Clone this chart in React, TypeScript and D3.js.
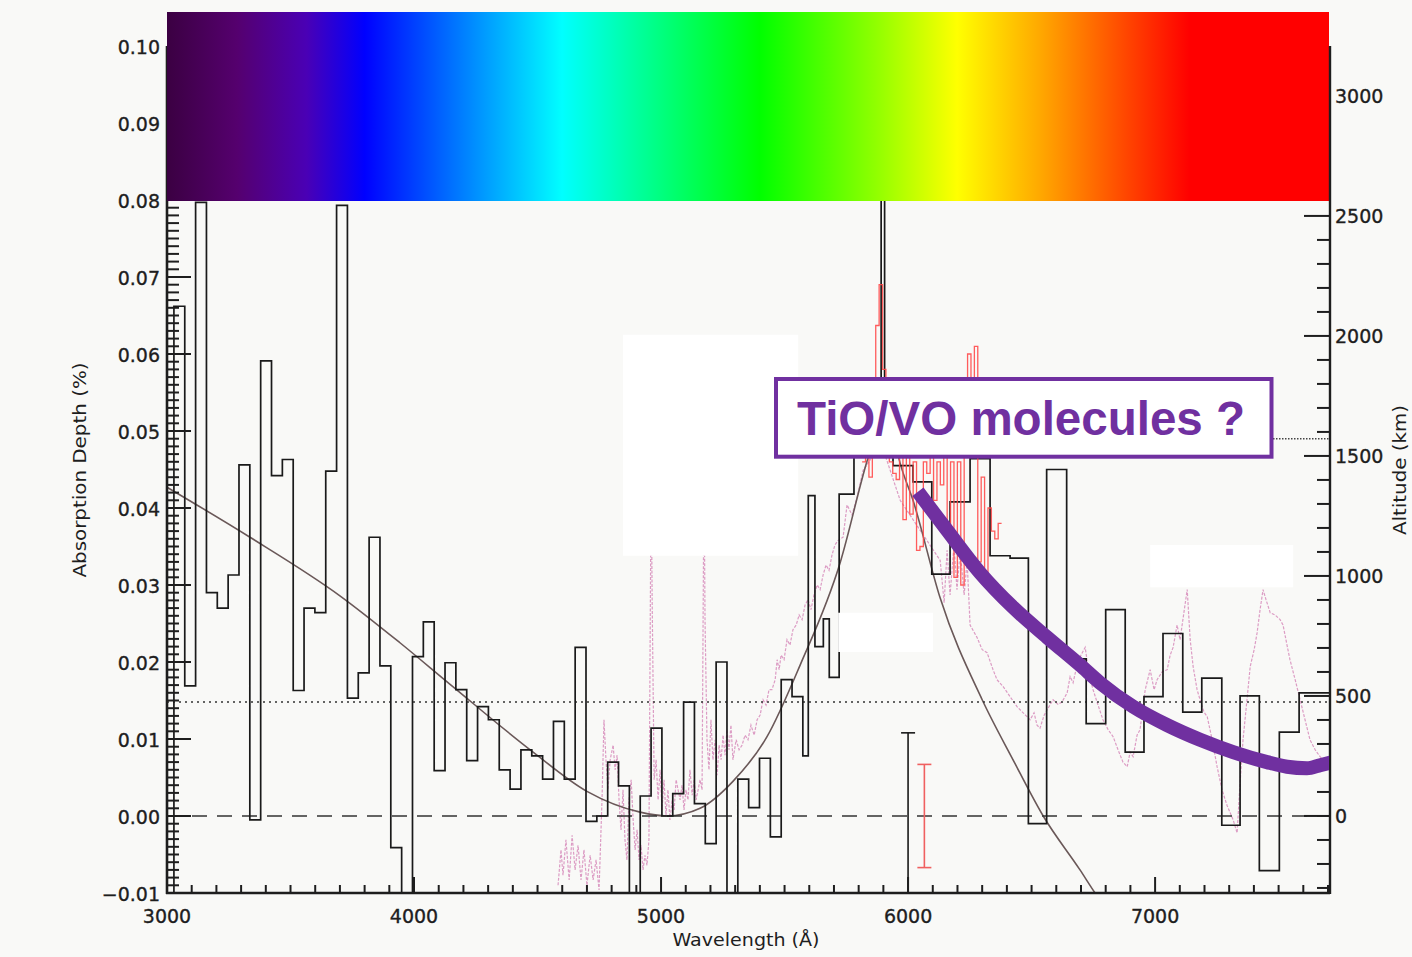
import * as d3 from 'd3'

// black binned absorption depth: first 58 bins are 43.9 A wide from 3028 A
const uniformStart = 3028
const uniformWidth = 43.9
const uniformValues = [
  0.0662, 0.0169, 0.0797, 0.029, 0.027, 0.0313, 0.0456, -0.0005, 0.0591, 0.0442,
  0.0463, 0.0163, 0.027, 0.0264, 0.0448, 0.0793, 0.0153, 0.0186, 0.0362, 0.0195,
  -0.0041, -0.013, 0.0207, 0.0252, 0.0059, 0.0199, 0.0164, 0.0072, 0.0142, 0.0125,
  0.006, 0.0035, 0.0086, 0.0078, 0.0048, 0.0123, 0.0048, 0.0219, -0.0007, 0.0,
  0.007, 0.0039, -0.013, 0.0026, 0.0114, 0.0, 0.0029, 0.0148, 0.0016, -0.0036,
  0.02, -0.013, 0.0048, 0.0011, 0.0075, -0.0027, 0.0177, 0.0155,
]
// then irregular bins
const wideEdges = [
  5574, 5596, 5623, 5657, 5681, 5721, 5781, 5846, 5891, 5905, 5939, 6020, 6096, 6170,
  6251, 6332, 6413, 6487, 6561, 6642, 6721, 6800, 6879, 6955, 7032, 7112, 7189, 7270,
  7344, 7422, 7503, 7583, 7704,
]
const wideValues = [
  0.0078, 0.0416, 0.022, 0.0256, 0.018, 0.0418, 0.05, 0.054, 0.09, 0.052, 0.0455,
  0.0434, 0.0314, 0.0408, 0.0464, 0.0338, 0.0335, -0.001, 0.045, 0.0204, 0.012,
  0.0268, 0.0083, 0.0155, 0.0237, 0.0135, 0.0179, -0.0012, 0.0156, -0.0071, 0.0109,
  0.016,
]

// red high resolution bins around the Na line
const redStart = 5814
const redWidth = 13.77
const redValues = [
  0.046, 0.049, 0.044, 0.048, 0.0637, 0.069, 0.058, 0.05, 0.046, 0.0445,
  0.0437, 0.047, 0.0385, 0.047, 0.0392, 0.046, 0.0345, 0.035, 0.046, 0.0445,
  0.047, 0.041, 0.046, 0.043, 0.047, 0.036, 0.046, 0.031, 0.046, 0.03,
  0.048, 0.06, 0.049, 0.061, 0.033, 0.044, 0.03, 0.04, 0.037, 0.036, 0.038,
]

// pink comparison spectrum [wavelength, depth]
const pinkSpectrum: [number, number][] = [
  [4583, -0.009], [4595, -0.0044], [4603, -0.0077], [4615, -0.0031], [4628, -0.0083],
  [4640, -0.0025], [4652, -0.007], [4664, -0.0038], [4676, -0.0083], [4688, -0.0044],
  [4700, -0.009], [4713, -0.0051], [4725, -0.0083], [4737, -0.0057], [4749, -0.0096],
  [4761, 0.0021], [4769, 0.0125], [4777, 0.0073], [4785, 0.0034], [4794, 0.0073],
  [4806, 0.0092], [4814, 0.006], [4822, 0.0079], [4830, 0.0021], [4838, -0.0018],
  [4846, 0.0034], [4854, -0.0031], [4862, -0.0057], [4870, 0.0021], [4879, 0.0047],
  [4887, -0.0005], [4895, -0.0044], [4903, -0.0018], [4911, -0.0057], [4919, -0.0038],
  [4927, -0.007], [4935, -0.0051], [4943, -0.0064], [4951, -0.0031], [4960, 0.045],
  [4964, 0.0281], [4972, 0.0047], [4980, 0.0073], [4988, 0.0021], [4996, 0.006],
  [5004, 0.0008], [5012, 0.0047], [5020, 0.0001], [5028, 0.0034], [5036, -0.0005],
  [5045, 0.0021], [5053, 0.0008], [5061, 0.0047], [5069, 0.0034], [5077, 0.0021],
  [5085, 0.004], [5093, 0.0008], [5101, 0.0034], [5109, 0.0021], [5117, 0.006],
  [5126, 0.0027], [5134, 0.0047], [5142, 0.0021], [5150, 0.0034], [5158, 0.0047],
  [5166, 0.0034], [5174, 0.045], [5178, 0.0255], [5186, 0.0099], [5194, 0.006],
  [5202, 0.0125], [5210, 0.0073], [5219, 0.0099], [5227, 0.0053], [5235, 0.0092],
  [5243, 0.0073], [5251, 0.0105], [5259, 0.0079], [5267, 0.0112], [5275, 0.0086],
  [5283, 0.0118], [5291, 0.0073], [5304, 0.0099], [5316, 0.0086], [5328, 0.0092],
  [5340, 0.0105], [5352, 0.0099], [5364, 0.0118], [5377, 0.0105], [5389, 0.0125],
  [5401, 0.0131], [5413, 0.0151], [5425, 0.0144], [5437, 0.0164], [5449, 0.0164],
  [5462, 0.0177], [5470, 0.0203], [5478, 0.019], [5486, 0.0209], [5498, 0.0203],
  [5510, 0.0229], [5522, 0.0222], [5534, 0.0242], [5547, 0.0248], [5559, 0.0261],
  [5571, 0.0255], [5583, 0.0274], [5595, 0.0281], [5607, 0.0268], [5619, 0.0287],
  [5632, 0.03], [5644, 0.0294], [5656, 0.0313], [5668, 0.0326], [5680, 0.0319],
  [5692, 0.0339], [5704, 0.0352], [5717, 0.0358], [5737, 0.0362], [5753, 0.0404],
  [5773, 0.0391], [5794, 0.0414], [5818, 0.0449], [5846, 0.0462], [5887, 0.0488],
  [5968, 0.041], [6049, 0.0371], [6130, 0.0332], [6146, 0.0277], [6158, 0.0345],
  [6170, 0.0287], [6186, 0.0352], [6198, 0.0294], [6211, 0.0345], [6227, 0.0287],
  [6239, 0.0332], [6251, 0.0248], [6279, 0.0232], [6300, 0.0216], [6320, 0.0212],
  [6344, 0.019], [6360, 0.0177], [6385, 0.0168], [6413, 0.0155], [6441, 0.0142],
  [6466, 0.0134], [6494, 0.0125], [6510, 0.0134], [6522, 0.0118], [6534, 0.0114],
  [6551, 0.0131], [6563, 0.0138], [6587, 0.0151], [6607, 0.0145], [6623, 0.0148],
  [6644, 0.016], [6656, 0.0181], [6668, 0.0173], [6684, 0.0196], [6700, 0.0209],
  [6717, 0.0219], [6733, 0.0183], [6749, 0.0164], [6769, 0.0144], [6789, 0.0125],
  [6810, 0.0112], [6830, 0.0103], [6850, 0.0086], [6870, 0.007], [6887, 0.0064],
  [6899, 0.0083], [6911, 0.0077], [6927, 0.0105], [6939, 0.0112], [6960, 0.0164],
  [6980, 0.019], [6996, 0.0164], [7008, 0.0177], [7028, 0.0187], [7049, 0.019],
  [7061, 0.0209], [7073, 0.0219], [7089, 0.0248], [7101, 0.0229], [7117, 0.0265],
  [7130, 0.0294], [7142, 0.0229], [7154, 0.0194], [7170, 0.0164], [7182, 0.0151],
  [7198, 0.0135], [7211, 0.0129], [7231, 0.0099], [7251, 0.0064], [7271, 0.0034],
  [7291, 0.0014], [7316, -0.0005], [7332, -0.0022], [7344, 0.0043], [7356, 0.0099],
  [7372, 0.0151], [7385, 0.0194], [7401, 0.0216], [7413, 0.0238], [7425, 0.0268],
  [7437, 0.0294], [7449, 0.0281], [7466, 0.0264], [7486, 0.0261], [7506, 0.0255],
  [7518, 0.0248], [7534, 0.0222], [7546, 0.0203], [7567, 0.0177], [7587, 0.0151],
  [7607, 0.0125], [7627, 0.0099], [7648, 0.0086], [7668, 0.0077], [7688, 0.007],
  [7704, 0.0064],
]

// smooth model curve
const modelCurve: [number, number][] = [
  [3000, 0.0427], [3336, 0.0362], [3700, 0.0286], [3943, 0.0225], [4146, 0.0171],
  [4482, 0.0083], [4700, 0.0032], [4915, 0.0005], [5024, 0.0], [5158, 0.001],
  [5291, 0.0045], [5429, 0.0103], [5563, 0.0196], [5725, 0.0329], [5834, 0.0461],
  [5887, 0.0514], [5893, 0.056], [5911, 0.054], [5968, 0.0458], [6020, 0.041],
  [6130, 0.0283], [6300, 0.0151], [6425, 0.0073], [6547, 0.0], [6696, -0.007],
  [6757, -0.01], [6818, -0.0128],
]

// hand drawn TiO/VO trend
const tioTrend: [number, number][] = [
  [6040, 0.0421], [6158, 0.0371], [6291, 0.0316], [6425, 0.0271], [6563, 0.0232],
  [6696, 0.0196], [6777, 0.0173], [6911, 0.0142], [7049, 0.0118], [7182, 0.0099],
  [7316, 0.0083], [7453, 0.007], [7534, 0.0064], [7615, 0.0062], [7668, 0.0066],
  [7717, 0.007],
]

const errorBars = [
  { wave: 6000, value: 0, err: 0.0108, color: '#1a1a1a' },
  { wave: 6066, value: 0, err: 0.0067, color: '#f06060' },
]

const dottedLevel = 0.0148
const altitudeMark = 0.049

// blanked patches in the original figure [w0, w1, v0, v1]
const blankPatches = [
  [4846, 5555, 0.0338, 0.0625],
  [5717, 6101, 0.0213, 0.0264],
  [6980, 7559, 0.0297, 0.0352],
]

const rainbowStops = [
  [0, '#3b0042'], [0.06, '#55006e'], [0.12, '#4a00b5'], [0.17, '#0000ff'],
  [0.34, '#00ffff'], [0.51, '#00ff00'], [0.61, '#90ff00'], [0.68, '#ffff00'],
  [0.75, '#ffaa00'], [0.83, '#ff4000'], [0.88, '#ff0000'], [1, '#ff0000'],
]

const leftLabels = d3.range(-1, 11).map((i) => i / 100)
const bottomLabels = [3000, 4000, 5000, 6000, 7000]
const rightLabels = [0, 500, 1000, 1500, 2000, 2500, 3000]

export default function App() {
  const x = d3.scaleLinear().domain([3000, 7704]).range([167, 1329])
  const y = d3.scaleLinear().domain([-0.01, 0.1]).range([893, 46])
  const yAlt = d3.scaleLinear().domain([-321, 3208]).range([893, 46])
  const smooth = d3
    .line<[number, number]>()
    .x((d) => x(d[0]))
    .y((d) => y(d[1]))
    .curve(d3.curveMonotoneX)
  const straight = d3
    .line<[number, number]>()
    .x((d) => x(d[0]))
    .y((d) => y(d[1]))

  const stepPoints = (edges: number[], vals: number[], startLow: boolean) => {
    const pts: [number, number][] = []
    if (startLow) pts.push([edges[0], -0.02])
    vals.forEach((v, i) => {
      pts.push([edges[i], v], [edges[i + 1], v])
    })
    return pts
  }

  const blackEdges = [
    ...d3.range(58).map((k) => uniformStart + uniformWidth * k),
    ...wideEdges,
  ]
  const blackValues = [...uniformValues, ...wideValues]
  const redEdges = d3.range(redValues.length + 1).map((k) => redStart + redWidth * k)

  const fmt = d3.format('.2f')
  const font = 'DejaVu Sans, sans-serif'
  const ink = '#1e1e1e'

  return (
    <svg
      width={1412}
      height={957}
      style={{ position: 'absolute', left: 0, top: 0 }}
      xmlns="http://www.w3.org/2000/svg"
    >
      <defs>
        <clipPath id="plot">
          <rect x={167} y={46} width={1162} height={847} />
        </clipPath>
        <linearGradient id="rainbow" x1="0" x2="1" y1="0" y2="0">
          {rainbowStops.map(([o, c]) => (
            <stop key={String(o)} offset={o as number} stopColor={c as string} />
          ))}
        </linearGradient>
      </defs>
      <rect width={1412} height={957} fill="#f9f9f7" />

      <g clipPath="url(#plot)">
        <path
          d={straight(pinkSpectrum) || ''}
          fill="none"
          stroke="#dc9cc4"
          strokeWidth={1.2}
          strokeDasharray="3,1.5"
        />
        <path d={smooth(modelCurve) || ''} fill="none" stroke="#6a5858" strokeWidth={1.6} />
        <line
          x1={x(3000)} x2={x(7704)} y1={y(dottedLevel)} y2={y(dottedLevel)}
          stroke="#333" strokeWidth={1.4} strokeDasharray="2,4"
        />
        <line
          x1={x(3000)} x2={x(7704)} y1={y(0)} y2={y(0)}
          stroke="#333" strokeWidth={1.4} strokeDasharray="15,10"
        />
        <path
          d={straight(stepPoints(blackEdges, blackValues, true)) || ''}
          fill="none"
          stroke="#1a1a1a"
          strokeWidth={1.7}
        />
        <path
          d={straight(stepPoints(redEdges, redValues, false)) || ''}
          fill="none"
          stroke="#ff4a4a"
          strokeWidth={1.3}
          opacity={0.9}
        />
        {errorBars.map((e) => (
          <g key={e.wave} stroke={e.color} strokeWidth={1.6}>
            <line x1={x(e.wave)} x2={x(e.wave)} y1={y(e.value + e.err)} y2={y(e.value - e.err)} />
            <line x1={x(e.wave) - 7} x2={x(e.wave) + 7} y1={y(e.value + e.err)} y2={y(e.value + e.err)} />
            <line x1={x(e.wave) - 7} x2={x(e.wave) + 7} y1={y(e.value - e.err)} y2={y(e.value - e.err)} />
          </g>
        ))}
        {blankPatches.map(([w0, w1, v0, v1]) => (
          <rect
            key={w0}
            x={x(w0)}
            y={y(v1)}
            width={x(w1) - x(w0)}
            height={y(v0) - y(v1)}
            fill="#ffffff"
          />
        ))}
      </g>

      {/* axes: ladder of ticks on the left, wavelength below, altitude on the right */}
      <g stroke={ink} strokeWidth={2}>
        {d3.range(-10, 81).map((i) => (
          <line
            key={i}
            x1={167}
            x2={167 + (i % 10 === 0 ? 24 : 12)}
            y1={y(i / 1000)}
            y2={y(i / 1000)}
          />
        ))}
        {d3.range(3000, 7701, 100).map((w) => (
          <line
            key={w}
            x1={x(w)}
            x2={x(w)}
            y1={893}
            y2={893 - (w % 1000 === 0 ? 16 : 8)}
          />
        ))}
        {d3.range(-300, 3201, 100).map((a) => (
          <line
            key={a}
            x1={1329}
            x2={1329 - (a % 500 === 0 ? 25 : 12)}
            y1={yAlt(a)}
            y2={yAlt(a)}
          />
        ))}
        <line x1={167} x2={167} y1={46} y2={894} strokeWidth={2.6} />
        <line x1={166} x2={1330} y1={893} y2={893} strokeWidth={2.6} />
      </g>

      <rect x={167} y={12} width={1162} height={189} fill="url(#rainbow)" />
      <line x1={1330} x2={1330} y1={46} y2={894} stroke={ink} strokeWidth={2.4} />

      <g fontFamily={font} fontSize={19} fill={ink} stroke={ink} strokeWidth={0.35}>
        {leftLabels.map((v) => (
          <text key={v} x={160} y={y(v) + 7.5} textAnchor="end">
            {fmt(v)}
          </text>
        ))}
        {bottomLabels.map((w) => (
          <text key={w} x={x(w)} y={923} textAnchor="middle">
            {w}
          </text>
        ))}
        {rightLabels.map((a) => (
          <text key={a} x={1335} y={yAlt(a) + 7.5}>
            {a}
          </text>
        ))}
      </g>
      <g fontFamily={font} fontSize={17} fill={ink}>
        <text
          transform="translate(86,470) rotate(-90)"
          textAnchor="middle"
          textLength={215}
          lengthAdjust="spacingAndGlyphs"
        >
          Absorption Depth (%)
        </text>
        <text x={746} y={946} textAnchor="middle" textLength={147} lengthAdjust="spacingAndGlyphs">
          Wavelength (Å)
        </text>
        <text
          transform="translate(1406,470) rotate(-90)"
          textAnchor="middle"
          textLength={130}
          lengthAdjust="spacingAndGlyphs"
        >
          Altitude (km)
        </text>
      </g>

      <g clipPath="url(#plot)">
        <path
          d={smooth(tioTrend) || ''}
          fill="none"
          stroke="#7030a0"
          strokeWidth={14}
        />
      </g>
      <line
        x1={1273} x2={1329} y1={y(altitudeMark)} y2={y(altitudeMark)}
        stroke="#444" strokeWidth={1.4} strokeDasharray="1.5,1.5"
      />
      <rect x={776} y={379} width={495.5} height={77.7} fill="#ffffff" stroke="#7030a0" strokeWidth={4} />
      <text
        x={797}
        y={435}
        fontFamily="Liberation Sans, Arial, sans-serif"
        fontWeight="bold"
        fontSize={48}
        fill="#7030a0"
        textLength={448}
        lengthAdjust="spacingAndGlyphs"
      >
        TiO/VO molecules ?
      </text>
    </svg>
  )
}
